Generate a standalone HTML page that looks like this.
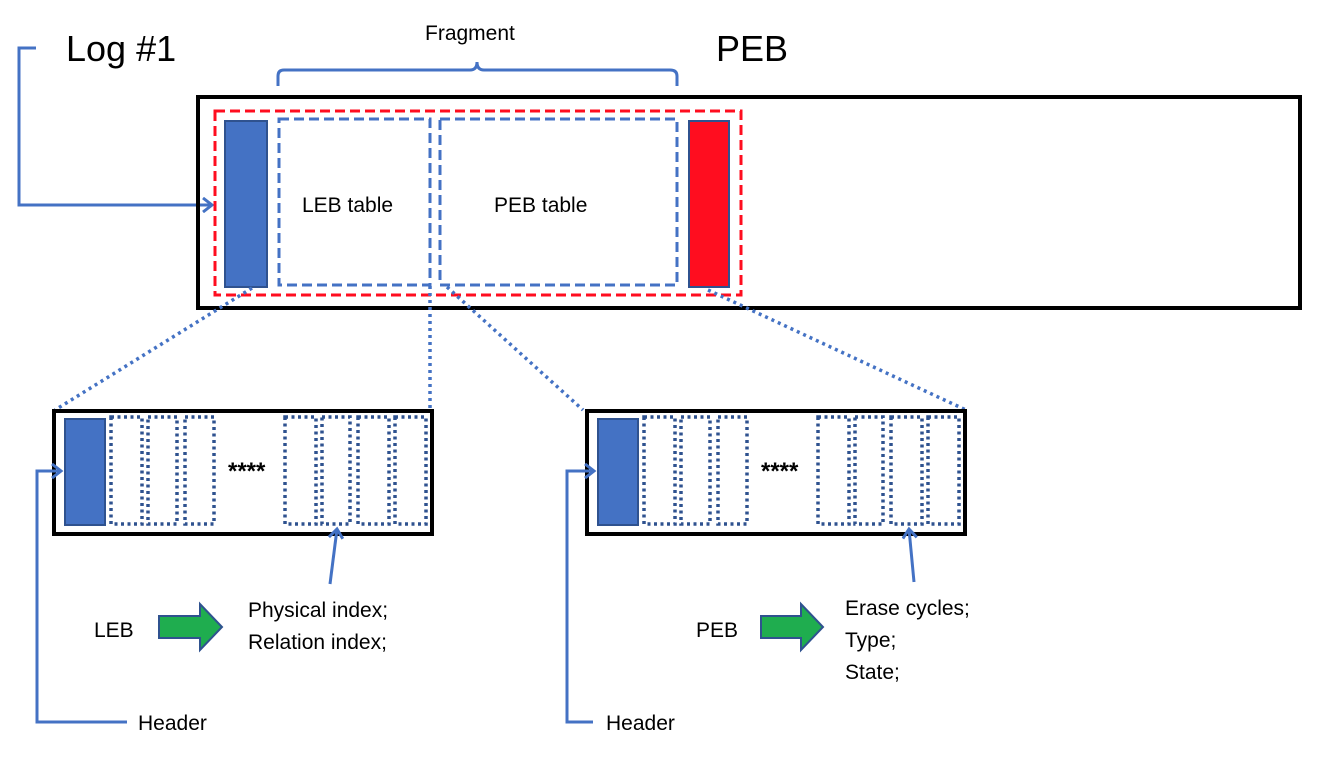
<!DOCTYPE html>
<html><head><style>
body{margin:0;background:#fff;}
svg{display:block}
text{font-family:"Liberation Sans",sans-serif;fill:#000}
</style></head><body>
<svg width="1340" height="782" viewBox="0 0 1340 782" xmlns="http://www.w3.org/2000/svg">
<defs>
<marker id="ah" markerWidth="14" markerHeight="16" refX="11" refY="8" orient="auto" markerUnits="userSpaceOnUse">
<path d="M2,1 L11,8 L2,15" fill="none" stroke="#4472C4" stroke-width="3"/>
</marker>
</defs>
<text x="66" y="61" font-size="36">Log #1</text>
<text x="716" y="61" font-size="36">PEB</text>
<text x="425" y="40" font-size="21">Fragment</text>
<path d="M278,86 V76 Q278,70 284,70 H470 Q477,70 477,62 Q477,70 484,70 H670 Q677,70 677,76 V86" fill="none" stroke="#4472C4" stroke-width="3"/>
<path d="M36,48 H19 V205 H212" fill="none" stroke="#4472C4" stroke-width="3" marker-end="url(#ah)"/>
<rect x="198" y="97" width="1102" height="211" fill="none" stroke="#000" stroke-width="4"/>
<rect x="215" y="111" width="526" height="184" fill="none" stroke="#FF0D1F" stroke-width="3" stroke-dasharray="10,5"/>
<rect x="225" y="121" width="42" height="166" fill="#4472C4" stroke="#2F528F" stroke-width="2"/>
<rect x="279" y="119" width="151" height="166" fill="none" stroke="#4472C4" stroke-width="3" stroke-dasharray="10,5"/>
<rect x="440" y="119" width="237" height="166" fill="none" stroke="#4472C4" stroke-width="3" stroke-dasharray="10,5"/>
<rect x="689" y="121" width="40" height="166" fill="#FF0D1F" stroke="#2F528F" stroke-width="2"/>
<text x="302" y="212" font-size="21">LEB table</text>
<text x="494" y="212" font-size="21">PEB table</text>
<g stroke="#4472C4" stroke-width="3.5" stroke-dasharray="3,4" fill="none">
<line x1="252" y1="288" x2="55" y2="410"/>
<line x1="430" y1="286" x2="430" y2="410"/>
<line x1="447" y1="287" x2="583" y2="410"/>
<line x1="708" y1="290" x2="966" y2="410"/>
</g>
<g id="sb">
<rect x="54" y="411" width="378" height="123" fill="#fff" stroke="#000" stroke-width="4"/>
<rect x="65" y="419" width="40" height="106" fill="#4472C4" stroke="#2F528F" stroke-width="2"/>
<g fill="none" stroke="#2F528F" stroke-width="3.5" stroke-dasharray="3,3.5">
<rect x="111" y="417" width="31" height="107"/>
<rect x="148" y="417" width="29" height="107"/>
<rect x="185" y="417" width="29" height="107"/>
<rect x="285" y="417" width="31" height="107"/>
<rect x="322" y="417" width="28" height="107"/>
<rect x="358" y="417" width="31" height="107"/>
<rect x="395" y="417" width="31" height="107"/>
</g>
<text x="228" y="479" font-size="24" font-weight="bold">****</text>
</g>
<use href="#sb" transform="translate(533,0)"/>
<line x1="330" y1="584" x2="337" y2="529" stroke="#4472C4" stroke-width="3" marker-end="url(#ah)"/>
<line x1="914" y1="582" x2="909" y2="529" stroke="#4472C4" stroke-width="3" marker-end="url(#ah)"/>
<path d="M127,722 H37 V471 H61" fill="none" stroke="#4472C4" stroke-width="3" marker-end="url(#ah)"/>
<path d="M593,722 H567 V471 H594" fill="none" stroke="#4472C4" stroke-width="3" marker-end="url(#ah)"/>
<text x="138" y="730" font-size="21">Header</text>
<text x="606" y="730" font-size="21">Header</text>
<path d="M159,616 H200 V604 L222,627 L200,650 V638 H159 Z" fill="#1FAD4F" stroke="#2F528F" stroke-width="2"/>
<path d="M761,616 H801 V604 L823,627 L801,650 V638 H761 Z" fill="#1FAD4F" stroke="#2F528F" stroke-width="2"/>
<text x="94" y="637" font-size="21">LEB</text>
<text x="696" y="637" font-size="21">PEB</text>
<text x="248" y="617" font-size="21">Physical index;</text>
<text x="248" y="649" font-size="21">Relation index;</text>
<text x="845" y="615" font-size="21">Erase cycles;</text>
<text x="845" y="647" font-size="21">Type;</text>
<text x="845" y="679" font-size="21">State;</text>
</svg>
</body></html>
